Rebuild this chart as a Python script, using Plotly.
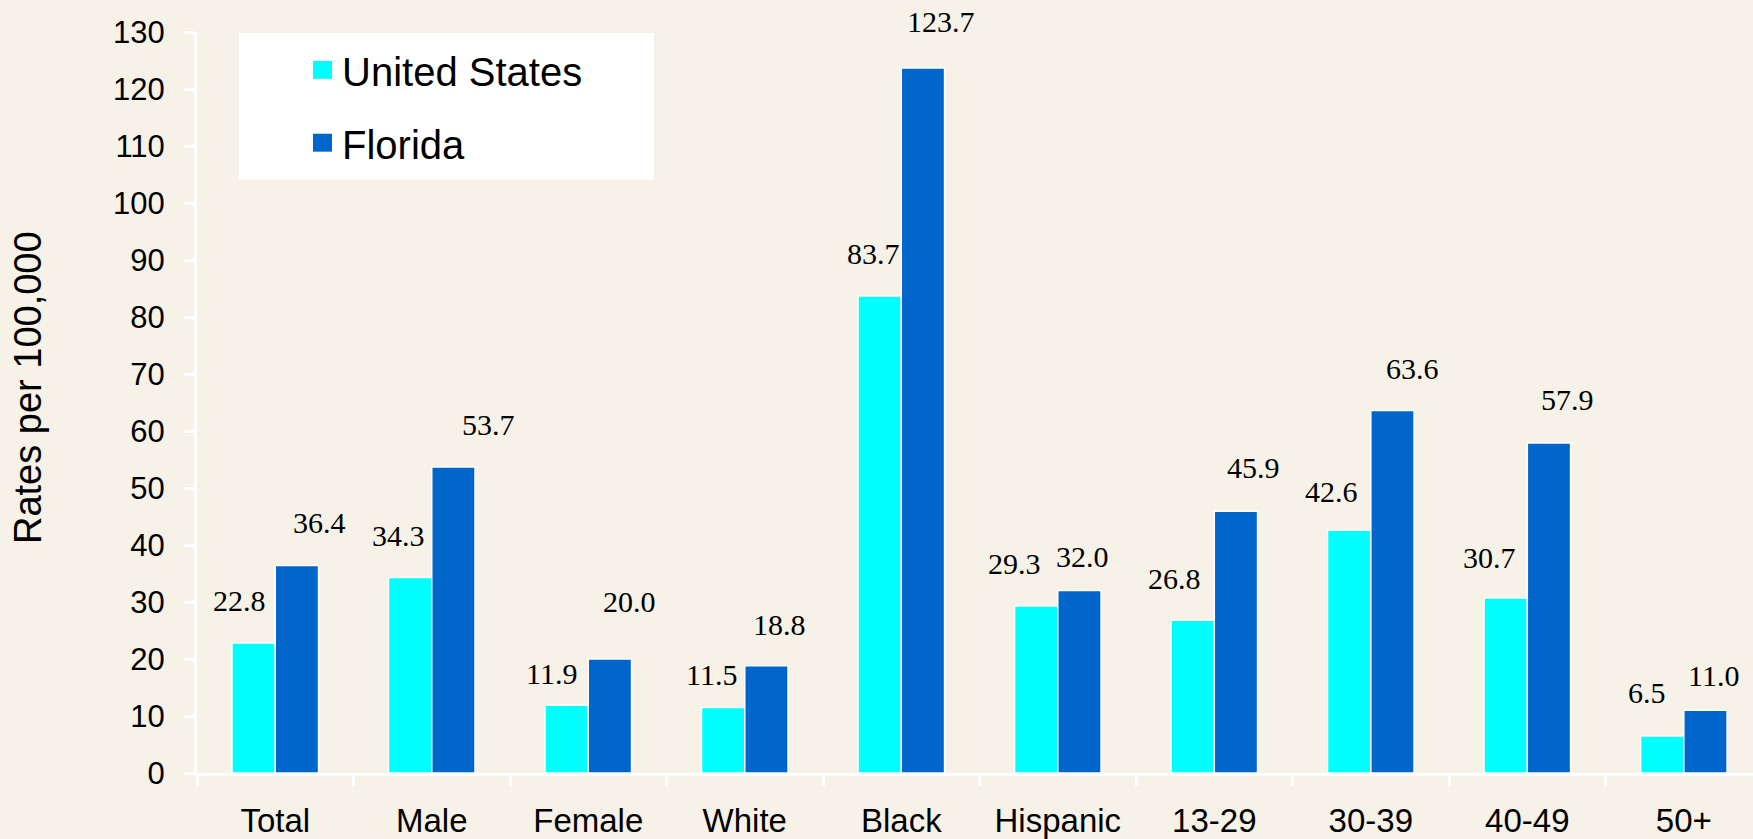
import plotly.graph_objects as go

# Data: HIV diagnosis rates per 100,000 population
categories = ["Total", "Male", "Female", "White", "Black", "Hispanic",
              "13-29", "30-39", "40-49", "50+"]
us_rates = [22.8, 34.3, 11.9, 11.5, 83.7, 29.3, 26.8, 42.6, 30.7, 6.5]
fl_rates = [36.4, 53.7, 20.0, 18.8, 123.7, 32.0, 45.9, 63.6, 57.9, 11.0]
series_names = ["United States", "Florida"]
y_ticks = list(range(0, 131, 10))
y_title = "Rates per 100,000"

# Styling
BG = "#F6F2E8"
CYAN = "#00FFFF"
BLUE = "#0066CC"
W, H = 1753, 839
M_L, M_R, M_T, M_B = 197, 0, 32, 64
BAR_GAP = 0.447
X_MAX = 9.442
SANS = "Liberation Sans, Arial, sans-serif"
SERIF = "Liberation Serif, Times New Roman, serif"

# Per-label pixel nudges (horizontal from bar centre, vertical above bar top)
us_label_dx = [-14, -12, -15, -12, -6, -22, -18, -18, -16, -15]
us_label_dy = [43, 42, 32, 33, 42, 42, 42, 39, 41, 43]
fl_label_dx = [23, 35, 20, 13, 18, 3, 18, 20, 19, 8]
fl_label_dy = [43, 42, 58, 41, 46, 34, 44, 42, 43, 35]

plot_w = W - M_L - M_R
plot_h = H - M_T - M_B
cat_px = plot_w / (X_MAX + 0.5)
bar_offset = (1 - BAR_GAP) * cat_px / 4


def px_to_paper(px, py):
    return (px - M_L) / plot_w, (H - M_B - py) / plot_h


fig = go.Figure()
for name, vals, color in [(series_names[0], us_rates, CYAN),
                          (series_names[1], fl_rates, BLUE)]:
    fig.add_trace(go.Bar(
        x=categories, y=vals, name=name,
        marker=dict(color=color, line=dict(color="white", width=1.5)),
        showlegend=False, hoverinfo="x+y+name",
    ))

annotations = []
for side, vals, dxs, dys in [(-1, us_rates, us_label_dx, us_label_dy),
                             (1, fl_rates, fl_label_dx, fl_label_dy)]:
    for cat, v, dx, dy in zip(categories, vals, dxs, dys):
        annotations.append(dict(
            x=cat, y=v, xref="x", yref="y", text=f"{v:.1f}",
            showarrow=False, xanchor="center", yanchor="middle",
            xshift=side * bar_offset + dx, yshift=dy,
            font=dict(family=SERIF, size=30, color="black"),
        ))

# Vertical axis title
tx, ty = px_to_paper(28, 389)
annotations.append(dict(
    x=tx, y=ty, xref="paper", yref="paper", text=y_title,
    showarrow=False, textangle=-90, xanchor="center", yanchor="middle",
    font=dict(family=SANS, size=38, color="black"),
))

# Legend box drawn as a white panel with coloured keys
shapes = []
bx0, by0 = px_to_paper(239, 180)
bx1, by1 = px_to_paper(654, 33)
shapes.append(dict(type="rect", xref="paper", yref="paper",
                   x0=bx0, y0=by0, x1=bx1, y1=by1,
                   fillcolor="white", line=dict(width=0), layer="above"))
for name, color, cy in [(series_names[0], CYAN, 70), (series_names[1], BLUE, 143)]:
    sx0, sy0 = px_to_paper(313, cy + 9)
    sx1, sy1 = px_to_paper(332, cy - 9)
    shapes.append(dict(type="rect", xref="paper", yref="paper",
                       x0=sx0, y0=sy0, x1=sx1, y1=sy1,
                       fillcolor=color, line=dict(width=0), layer="above"))
    lx, ly = px_to_paper(340, cy + 2)
    annotations.append(dict(
        x=lx, y=ly, xref="paper", yref="paper", text=name,
        showarrow=False, xanchor="left", yanchor="middle",
        font=dict(family=SANS, size=40, color="black"),
    ))

fig.update_layout(
    width=W, height=H,
    margin=dict(l=M_L, r=M_R, t=M_T, b=M_B, pad=0),
    paper_bgcolor=BG, plot_bgcolor=BG,
    barmode="group", bargap=BAR_GAP, bargroupgap=0,
    font=dict(family=SANS, size=31, color="black"),
    annotations=annotations, shapes=shapes,
    xaxis=dict(
        range=[-0.5, X_MAX], showgrid=False, zeroline=False,
        showline=True, linecolor="white", linewidth=3,
        ticks="outside", tickson="boundaries", ticklen=10, tickwidth=3,
        tickcolor="white", tickfont=dict(size=33), ticklabelstandoff=16,
    ),
    yaxis=dict(
        range=[0, 130], tickvals=y_ticks, showgrid=False, zeroline=False,
        showline=True, linecolor="white", linewidth=3,
        ticks="outside", ticklen=10, tickwidth=3, tickcolor="white",
        tickfont=dict(size=31), ticklabelstandoff=13,
    ),
)

fig.write_html("out.html")
